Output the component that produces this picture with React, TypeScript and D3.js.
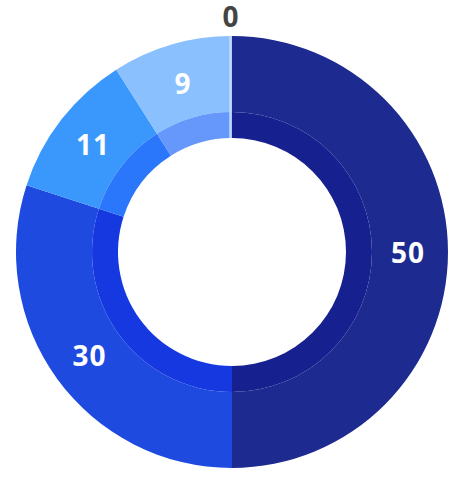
import React, { useEffect } from "react";
import * as d3 from "d3";

const categories = ["A", "B", "C", "D", "E"];
const values = [50, 30, 11, 9, 0];
const outerColors = ["#1d2a8f", "#1e4ae0", "#3a98fc", "#89c0fd", "#bcd9fe"];
const innerColors = ["#17208f", "#1638e0", "#2a77fb", "#6598fa", "#a9c8fd"];

const W = 462;
const H = 480;
const cx = 232;
const cy = 252;
const R = 216;
const rMid = 140;
const rIn = 114;

export default function App() {
  useEffect(() => {
    document.body.style.margin = "0";
  }, []);

  const pie = d3
    .pie<number>()
    .sort(null)
    .value((d) => d)(values);

  const outerArc = d3.arc<d3.PieArcDatum<number>>().innerRadius(rMid).outerRadius(R);
  const innerArc = d3.arc<d3.PieArcDatum<number>>().innerRadius(rIn).outerRadius(rMid);
  const labelArc = d3.arc<d3.PieArcDatum<number>>().innerRadius(176).outerRadius(176);

  const textProps = {
    textAnchor: "middle" as const,
    dominantBaseline: "central" as const,
    fontFamily: "'Open Sans', sans-serif",
    fontWeight: 700,
    fontSize: 28,
    letterSpacing: 1,
  };

  return (
    <svg width={W} height={H} style={{ display: "block" }}>
      <g transform={`translate(${cx},${cy})`}>
        {pie.map((p, i) => (
          <g key={categories[i]}>
            <path d={outerArc(p) || ""} fill={outerColors[i]} />
            <path d={innerArc(p) || ""} fill={innerColors[i]} />
          </g>
        ))}
        {pie.map((p, i) =>
          p.value === 0 ? (
            <line
              key={"z" + i}
              x1={-1.5}
              x2={-1.5}
              y1={-rIn}
              y2={-R}
              stroke={outerColors[i]}
              strokeWidth={2.5}
            />
          ) : null
        )}
        {pie.map((p, i) => {
          if (p.value === 0) {
            const a = p.startAngle;
            const rr = R + 20;
            return (
              <text
                key={"l" + i}
                {...textProps}
                x={Math.sin(a) * rr - 1}
                y={-Math.cos(a) * rr}
                fill="#444444"
              >
                {values[i]}
              </text>
            );
          }
          const [lx, ly] = labelArc.centroid(p);
          return (
            <text key={"l" + i} {...textProps} x={lx} y={ly} fill="#ffffff">
              {values[i]}
            </text>
          );
        })}
      </g>
    </svg>
  );
}
